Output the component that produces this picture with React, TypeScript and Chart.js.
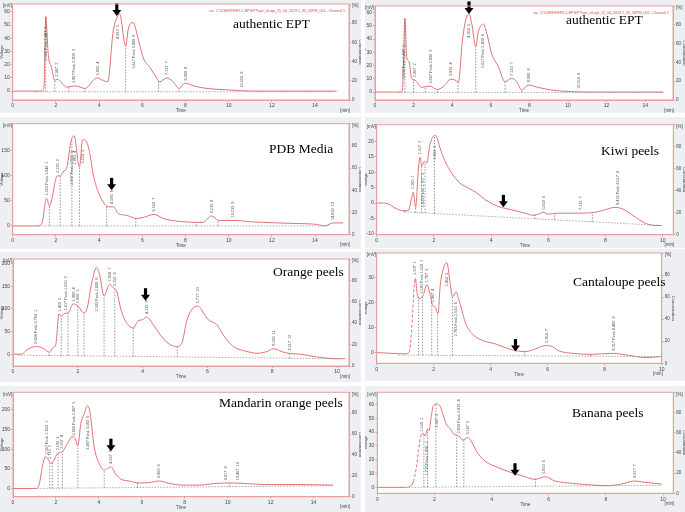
import React, { useEffect, useRef } from 'react';
import { Chart, registerables } from 'chart.js';
Chart.register(...registerables);

// ---------- data ----------
const eptLTime = [0, 1.34, 1.45, 1.53, 1.65, 1.8, 1.95, 2.06, 2.5, 2.88, 3.35, 3.9, 4.2, 4.4, 4.65, 4.9, 4.95, 5.23, 5.35, 5.58, 5.8, 6.05, 6.35, 6.66, 6.8, 7.12, 7.43, 7.7, 7.97, 8.36, 8.98, 9.9, 11.1, 15.0];
const eptLVolt = [0, 0, 3, 56.5, 27, 18, 8, 9, 3, 4, 2, 10, 8, 7, 45, 58, 58.5, 34, 47, 52, 40, 25, 18, 10, 7, 10, 7, 2, 6, 4, 2, 1, 0, 0];
const eptRTime = [0, 1.3, 1.42, 1.55, 1.64, 1.76, 1.9, 2.07, 2.42, 2.85, 3.2, 3.54, 3.94, 4.15, 4.32, 4.53, 4.7, 4.87, 5.01, 5.22, 5.35, 5.53, 5.61, 5.79, 6.04, 6.39, 6.74, 7.08, 7.34, 7.6, 7.94, 8.46, 9.15, 10.19, 11.57, 14.94];
const eptRVolt = [0, 0, 1.5, 55.7, 26.7, 23, 10.3, 9, 3.5, 4.5, 2, 4, 9.8, 9, 7.6, 39, 54.5, 59, 52, 34.3, 45.6, 50.7, 51.4, 44.4, 29.2, 19.2, 7.8, 10.3, 7.8, 1.5, 5.3, 3.5, 1.5, 0.3, 0, 0];
const pdbTime = [0, 1.19, 1.35, 1.57, 1.7, 2.07, 2.22, 2.37, 2.5, 2.68, 2.84, 3.09, 3.24, 3.42, 3.58, 3.73, 3.96, 4.19, 4.43, 4.66, 4.89, 5.28, 5.74, 6.05, 6.54, 6.97, 7.74, 8.8, 9.21, 9.52, 10.2, 11.1, 12.99, 14.07, 14.45, 14.84, 15.3];
const pdbVolt = [0, 0, 5, 55, 40, 100, 100, 110, 115, 165, 180, 118, 172, 168, 142, 102, 68, 48, 38, 38, 25, 21, 15, 17, 23, 15, 9, 7, 20, 11, 11, 8, 5, 3, 0, 6, 6];
const kiwiTime = [0, 0.23, 0.41, 0.64, 0.93, 1.1, 1.22, 1.28, 1.36, 1.46, 1.52, 1.57, 1.67, 1.75, 1.86, 1.98, 2.06, 2.21, 2.39, 2.62, 2.91, 3.2, 3.5, 3.79, 4.25, 4.72, 5.19, 5.48, 5.65, 5.83, 6.0, 6.35, 7.05, 7.63, 7.98, 8.33, 8.57, 8.92, 9.38, 9.73, 9.97];
const kiwiVolt = [0, 0, -0.3, -1.6, -2.5, -2.5, 1.6, 3.6, -1.4, 11.4, 14.9, 12, 13.6, 13, 19, 21.7, 22, 18, 13.6, 9.8, 6.5, 4.9, 3.3, 1.1, -1.1, -2.2, -3.3, -4, -3.6, -3, -3.6, -3.3, -3.3, -3, -2.2, -1.4, -1.8, -3.8, -6.5, -7.3, -7.3];
const orangeTime = [0, 0.26, 0.46, 0.72, 0.93, 1.13, 1.24, 1.32, 1.42, 1.49, 1.6, 1.7, 1.86, 2.01, 2.19, 2.29, 2.42, 2.58, 2.68, 2.81, 2.94, 2.99, 3.09, 3.2, 3.32, 3.45, 3.71, 3.87, 4.0, 4.12, 4.33, 4.54, 4.79, 5.05, 5.21, 5.36, 5.52, 5.72, 5.88, 6.03, 6.29, 6.55, 6.8, 7.22, 7.53, 7.84, 8.04, 8.35, 8.56, 8.87, 9.38, 10.0, 10.26];
const orangeVolt = [0, 0, 11, 17, 13, 4.4, 15, 21, 89, 84, 90, 91, 111, 106, 91, 102, 154, 191, 173, 128, 150, 154, 147, 139, 102, 76, 58, 74, 76, 82, 65, 43, 24, 17, 24, 73, 99, 106, 91, 76, 65, 36, 17, 6, 2, 6, 12, 4.4, 1.5, 0, -6, -10, -10];
const cantTime = [0, 0.53, 1.0, 1.14, 1.23, 1.31, 1.35, 1.43, 1.52, 1.64, 1.76, 1.88, 1.96, 2.05, 2.15, 2.23, 2.34, 2.46, 2.58, 2.66, 2.79, 2.87, 2.99, 3.1, 3.34, 3.69, 4.16, 4.63, 4.92, 5.22, 5.57, 5.92, 6.1, 6.39, 6.86, 7.56, 8.27, 8.62, 9.09, 9.44, 9.96];
const cantVolt = [0, -0.3, -0.5, 0.1, 9.7, 25.7, 30, 23, 21.7, 23.3, 27.3, 23, 19, 18.4, 15.7, 27, 33.7, 36.1, 27.7, 22.4, 24.4, 21.7, 17, 12.4, 7.7, 5, 3.5, 1.5, 0.7, 0.4, 1.5, 2.8, 2.7, 0.7, -0.3, -0.7, -0.3, -0.7, -1.6, -2, -1.6];
const mandTime = [0, 1.06, 1.21, 1.4, 1.52, 1.68, 1.8, 1.91, 2.07, 2.22, 2.33, 2.54, 2.77, 2.92, 3.02, 3.16, 3.31, 3.47, 3.58, 3.78, 4.01, 4.25, 4.4, 4.56, 4.79, 5.02, 5.41, 5.88, 6.35, 6.81, 7.28, 7.9, 8.68, 9.46, 10.23, 11.0, 11.79, 13.34, 14.9];
const mandVolt = [0, 0, 8.5, 64, 81, 70, 64, 72, 89, 92, 95, 115, 132, 123, 109, 166, 189, 211, 196, 106, 64, 47, 51, 55, 36, 24, 19, 14, 15, 19, 13, 8.5, 8.5, 13, 14, 12, 10, 10, 8.5];
const banTime = [0, 0.97, 1.14, 1.26, 1.38, 1.44, 1.53, 1.61, 1.67, 1.76, 1.81, 1.88, 1.96, 2.08, 2.19, 2.31, 2.43, 2.54, 2.66, 2.81, 2.89, 2.98, 3.07, 3.16, 3.3, 3.48, 3.77, 4.24, 4.7, 5.17, 5.52, 5.87, 6.22, 6.8, 7.5, 8.09, 8.55, 9.02, 9.37, 9.95];
const banVolt = [0, 0, 0.7, 4, 16, 25.8, 37.8, 39, 37.3, 42, 41, 50, 59, 60.2, 59, 52, 45, 42.7, 39, 37.3, 36.6, 34.2, 35, 36, 33, 25.8, 19, 14.2, 10.6, 7.7, 5.8, 7.7, 4.6, 2.9, 1.7, 1.2, 2.4, 4.6, 3.6, 2.4];

// peak retention times / labels
const eptLPeakT = [1.53, 2.07, 2.84, 3.96, 4.89, 5.61, 7.13, 8.02, 10.6];
const eptRPeakT = [1.52, 2.07, 2.9, 3.94, 4.87, 5.61, 7.12, 7.98, 10.59];
const eptPeakL = ['1.533 Peak 1.447  1', '2.067  2', '2.867 Peak 2.800  3', '3.933  4', '4.933  5', '5.617 Peak 5.400  6', '7.133  7', '8.000  8', '10.550  9'];
const pdbPeakT = [1.57, 2.11, 2.73, 2.88, 3.24, 4.58, 6.54, 9.24, 10.21, 14.84];
const pdbPeakL = ['1.553 Peak 1.640  1', '2.100  2', '2.667 Peak 2.833  3', '2.883  4', '3.233  5', '4.583  6', '6.550  7', '9.233  8', '10.233  9', '14.850  10'];
const kiwiPeakT = [1.28, 1.52, 1.63, 2.04, 5.86, 7.14, 8.43];
const kiwiPeakL = ['1.285  1', '1.517  2', '1.650 Peak 1.767  3', '2.050  5', '5.850  6', '7.133  7', '8.433 Peak 8.517  8'];
const orangePeakT = [0.7, 1.44, 1.63, 1.88, 2.01, 2.58, 2.99, 3.14, 4.12, 5.72, 8.04, 8.54];
const orangePeakL = ['0.699 Peak 0.760  1', '1.420  2', '1.617 Peak 1.633  3', '1.880  4', '2.000  5', '2.583 Peak 2.600  6', '2.950  7', '3.150  8', '4.133  9', '5.717  10', '8.033  11', '8.517  12'];
const cantPeakT = [1.35, 1.58, 1.77, 1.96, 2.46, 2.78, 5.98, 8.32];
const cantPeakL = ['1.337  1', '1.583 Peak 1.550  2', '1.767  3', '1.967  4', '2.450  5', '2.783 Peak 2.633  6', '5.950  7', '8.317 Peak 8.400  8'];
const mandPeakT = [1.56, 1.73, 2.1, 2.27, 2.85, 3.47, 4.56, 6.81, 9.92, 10.47];
const mandPeakL = ['1.567 Peak 1.650  1', '1.733  2', '2.100  3', '2.267  4', '2.850 Peak 2.967  5', '3.467 Peak 3.583  6', '4.567  7', '6.800  8', '9.917  9', '10.467  10'];
const banPeakT = [1.55, 1.73, 2.08, 2.86, 3.16, 5.85, 9.02];
const banPeakL = ['1.550  1', '1.733 Peak 1.800  2', '2.067  3', '2.850 Peak 2.933  4', '3.167  5', '5.850  6', '9.017  7'];

// integration boundary (drop line) times
const eptLDropT = [1.53, 1.95, 2.6, 3.35, 5.23, 6.75, 7.7];
const eptRDropT = [1.55, 2.0, 2.6, 3.25, 4.3, 5.22, 6.74, 7.6];
const pdbDropT = [1.7, 2.2, 2.74, 3.09, 4.35, 5.7, 8.5, 9.5, 14.3, 14.6];
const kiwiDropT = [0.97, 1.36, 1.57, 1.69, 2.02, 5.54, 6.22, 7.54];
const orangeDropT = [1.12, 1.49, 1.7, 2.0, 2.19, 2.81, 3.14, 3.71, 5.07, 8.54];
const cantDropT = [1.47, 1.61, 1.93, 2.14, 2.66, 5.19, 7.5, 9.96];
const mandDropT = [1.71, 1.83, 2.1, 2.3, 3.02, 4.25, 5.8, 10.08];
const banDropT = [1.63, 1.76, 2.05, 2.78, 3.03, 5.54];

// baselines [t0, v0, t1, v1]
const eptLBase = [1.0, -0.5, 14.9, -0.5];
const eptRBase = [1.2, -0.3, 14.94, -0.3];
const pdbBase = [1.2, 0, 14.45, 0];
const kiwiBase = [0.97, -2.9, 9.97, -7.3];
const orangeBase = [0.15, -2, 10.0, -10];
const cantBase = [0.76, -1, 9.96, -1.6];
const mandBase = [1.0, 0, 14.9, 7];
const banBase = [1.1, 0, 9.95, 1.5];

// arrow tips [time, value]
const eptLArrow = [4.82, 57];
const eptRArrow = [4.87, 59];
const pdbArrow = [4.58, 71];
const kiwiArrow = [4.43, -1.4];
const orangeArrow = [4.09, 118];
const cantArrow = [4.87, 0.4];
const mandArrow = [4.56, 95];
const banArrow = [4.82, 8.4];

const LEGEND_TEXT = 'C:\\USERS\\HPLC-EP\\EPT\\ept_ctl.opt_15_04_2023 1_33_56PM_002 - Channel 1';

// ---------- styles ----------
const CURVE = '#e27272';
const FRAME = '#e6a0a0';
const PANEL_BG = '#edeff2';
const SANS = 'Arial, "Liberation Sans", sans-serif';
const SERIF = '"Liberation Serif", "Times New Roman", serif';

interface PanelCfg {
  id: string;
  title: string;
  box: number[];
  frame: number[];
  xMax: number;
  yMin: number;
  yMax: number;
  yStep: number;
  time: number[];
  volt: number[];
  peakT: number[];
  peakL: string[];
  dropT: number[];
  base: number[];
  arrow: number[];
  dash?: number[];
  titlePos: number[];
  legend?: boolean;
}

const PANELS: PanelCfg[] = [
  { id: 'eptL', title: 'authentic EPT', box: [0, 0, 361, 113], frame: [12.7, 3.3, 349, 100], xMax: 15.57, yMin: -6.75, yMax: 66, yStep: 10, time: eptLTime, volt: eptLVolt, peakT: eptLPeakT, peakL: eptPeakL, dropT: eptLDropT, base: eptLBase, arrow: eptLArrow, titlePos: [233, 24], legend: true },
  { id: 'eptR', title: 'authentic EPT', box: [365, 0, 320, 113], frame: [10, 6, 308, 100], xMax: 15.44, yMin: -6, yMax: 65, yStep: 10, time: eptRTime, volt: eptRVolt, peakT: eptRPeakT, peakL: eptPeakL, dropT: eptRDropT, base: eptRBase, arrow: eptRArrow, titlePos: [566, 19.5], legend: true },
  { id: 'pdb', title: 'PDB Media', box: [0, 117, 361, 132], frame: [12.7, 6.7, 349, 117.7], xMax: 15.57, yMin: -17.5, yMax: 204, yStep: 50, time: pdbTime, volt: pdbVolt, peakT: pdbPeakT, peakL: pdbPeakL, dropT: pdbDropT, base: pdbBase, arrow: pdbArrow, titlePos: [269, 148.7] },
  { id: 'kiwi', title: 'Kiwi peels', box: [365, 117, 320, 131], frame: [11.7, 7.7, 308.3, 117.7], xMax: 10.37, yMin: -10.3, yMax: 25.5, yStep: 5, time: kiwiTime, volt: kiwiVolt, peakT: kiwiPeakT, peakL: kiwiPeakL, dropT: kiwiDropT, base: kiwiBase, arrow: kiwiArrow, titlePos: [601, 150.7] },
  { id: 'orange', title: 'Orange peels', box: [0, 252, 361, 130], frame: [13, 7, 349, 114], xMax: 10.37, yMin: -26, yMax: 210, yStep: 50, time: orangeTime, volt: orangeVolt, peakT: orangePeakT, peakL: orangePeakL, dropT: orangeDropT, base: orangeBase, arrow: orangeArrow, titlePos: [273, 272] },
  { id: 'cant', title: 'Cantaloupe peels', box: [365, 249, 320, 132], frame: [11.7, 3.3, 296.7, 114.3], xMax: 10.0, yMin: -4.3, yMax: 40, yStep: 10, time: cantTime, volt: cantVolt, peakT: cantPeakT, peakL: cantPeakL, dropT: cantDropT, base: cantBase, arrow: cantArrow, dash: [1.13, 1.36], titlePos: [573, 281.7] },
  { id: 'mand', title: 'Mandarin orange peels', box: [0, 386, 361, 126], frame: [13, 6.3, 349, 110.7], xMax: 15.65, yMin: -21, yMax: 245, yStep: 50, time: mandTime, volt: mandVolt, peakT: mandPeakT, peakL: mandPeakL, dropT: mandDropT, base: mandBase, arrow: mandArrow, titlePos: [219, 403] },
  { id: 'ban', title: 'Banana peels', box: [365, 386, 320, 126], frame: [12.3, 6.3, 308.3, 107.3], xMax: 10.36, yMin: -4.3, yMax: 68.7, yStep: 10, time: banTime, volt: banVolt, peakT: banPeakT, peakL: banPeakL, dropT: banDropT, base: banBase, arrow: banArrow, dash: [1.25, 1.54], titlePos: [572, 413] },
];

function valueAt(ts: number[], vs: number[], t: number): number {
  if (t <= ts[0]) return vs[0];
  for (let i = 1; i < ts.length; i++) {
    if (t <= ts[i]) {
      const f = (t - ts[i - 1]) / (ts[i] - ts[i - 1]);
      return vs[i - 1] + f * (vs[i] - vs[i - 1]);
    }
  }
  return vs[vs.length - 1];
}

function makeDecor(cfg: PanelCfg) {
  return {
    id: 'decor_' + cfg.id,
    beforeDraw(chart: any) {
      const { ctx, chartArea: a } = chart;
      ctx.save();
      ctx.fillStyle = '#ffffff';
      ctx.fillRect(a.left, a.top, a.right - a.left, a.bottom - a.top);
      ctx.restore();
    },
    afterDatasetsDraw(chart: any) {
      const { ctx, chartArea: a } = chart;
      const xs = chart.scales.x;
      const ys = chart.scales.y;
      const b = cfg.base;
      const baseAt = (t: number) => b[1] + ((t - b[0]) / (b[2] - b[0])) * (b[3] - b[1]);
      ctx.save();
      ctx.beginPath();
      ctx.rect(a.left, a.top, a.right - a.left, a.bottom - a.top);
      ctx.clip();
      // baseline
      ctx.strokeStyle = '#8a8a8a';
      ctx.lineWidth = 0.7;
      ctx.setLineDash([1.5, 1.5]);
      ctx.beginPath();
      ctx.moveTo(xs.getPixelForValue(b[0]), ys.getPixelForValue(b[1]));
      ctx.lineTo(xs.getPixelForValue(b[2]), ys.getPixelForValue(b[3]));
      ctx.stroke();
      // drop lines
      ctx.strokeStyle = '#666';
      cfg.dropT.forEach((t) => {
        const px = xs.getPixelForValue(t);
        ctx.beginPath();
        ctx.moveTo(px, ys.getPixelForValue(baseAt(t)));
        ctx.lineTo(px, ys.getPixelForValue(valueAt(cfg.time, cfg.volt, t)));
        ctx.stroke();
      });
      ctx.setLineDash([]);
      // peak labels
      ctx.fillStyle = '#555';
      ctx.font = `3.8px ${SANS}`;
      ctx.textBaseline = 'middle';
      ctx.textAlign = 'left';
      cfg.peakT.forEach((t, i) => {
        const text = cfg.peakL[i] || '';
        const px = xs.getPixelForValue(t);
        const apex = ys.getPixelForValue(valueAt(cfg.time, cfg.volt, t));
        const w = ctx.measureText(text).width;
        let start = apex - 3;
        if (start - w < a.top + 6) start = apex + 10 + w;
        ctx.save();
        ctx.translate(px, start);
        ctx.rotate(-Math.PI / 2);
        ctx.fillText(text, 0, 0);
        ctx.restore();
      });
      ctx.restore();
      // arrow
      const ax = xs.getPixelForValue(cfg.arrow[0]);
      const ay = ys.getPixelForValue(cfg.arrow[1]);
      ctx.save();
      ctx.fillStyle = '#000';
      ctx.fillRect(ax - 1.6, ay - 12.5, 3.2, 7.5);
      ctx.beginPath();
      ctx.moveTo(ax - 4.5, ay - 6);
      ctx.lineTo(ax + 4.5, ay - 6);
      ctx.lineTo(ax, ay);
      ctx.closePath();
      ctx.fill();
      ctx.restore();
    },
    afterDraw(chart: any) {
      const { ctx, chartArea: a } = chart;
      ctx.save();
      ctx.strokeStyle = FRAME;
      ctx.lineWidth = 1;
      ctx.strokeRect(a.left, a.top, a.right - a.left, a.bottom - a.top);
      ctx.fillStyle = '#444';
      ctx.font = `4.5px ${SANS}`;
      ctx.textBaseline = 'middle';
      ctx.textAlign = 'left';
      ctx.fillText('[mV]', a.left - 10, a.top + 2);
      ctx.fillText('[%]', a.right + 3, a.top + 2);
      ctx.textAlign = 'right';
      ctx.fillText('[min]', a.right + 1, a.bottom + 10.5);
      ctx.textAlign = 'center';
      ctx.fillText('Time', (a.left + a.right) / 2, a.bottom + 11);
      ctx.font = `4px ${SANS}`;
      ctx.save();
      ctx.translate(a.left - 11, (a.top + a.bottom) / 2);
      ctx.rotate(-Math.PI / 2);
      ctx.fillText('Voltage', 0, 0);
      ctx.restore();
      ctx.save();
      ctx.translate(a.right + 11, (a.top + a.bottom) / 2);
      ctx.rotate(Math.PI / 2);
      ctx.fillText('Concentration', 0, 0);
      ctx.restore();
      if (cfg.legend) {
        ctx.font = `3.6px ${SANS}`;
        ctx.fillStyle = '#d84848';
        ctx.textAlign = 'right';
        const tx = a.right - 4;
        const ty = a.top + 7;
        ctx.fillText(LEGEND_TEXT, tx, ty);
        const w = ctx.measureText(LEGEND_TEXT).width;
        ctx.strokeStyle = '#d84848';
        ctx.lineWidth = 0.7;
        ctx.beginPath();
        ctx.moveTo(tx - w - 7, ty);
        ctx.lineTo(tx - w - 2, ty);
        ctx.stroke();
      }
      ctx.restore();
    },
  };
}

function Panel({ cfg }: { cfg: PanelCfg }) {
  const ref = useRef<HTMLCanvasElement>(null);
  const [bx, by, bw, bh] = cfg.box;
  const [fl, ft, fr, fb] = cfg.frame;
  useEffect(() => {
    if (!ref.current) return;
    const tickFont = { size: 5, family: SANS };
    const gridOpt = { display: true, drawOnChartArea: false, drawTicks: true, tickLength: 2, color: FRAME };
    const chart = new Chart(ref.current, {
      type: 'line',
      data: {
        datasets: [
          {
            data: cfg.time.map((t, i) => ({ x: t, y: cfg.volt[i] })),
            borderColor: CURVE,
            borderWidth: 1,
            pointRadius: 0,
            fill: false,
            cubicInterpolationMode: 'monotone',
            segment: {
              borderDash: (c: any) =>
                cfg.dash && c.p0.parsed.x >= cfg.dash[0] && c.p1.parsed.x <= cfg.dash[1] ? [3, 2] : undefined,
            },
          } as any,
        ],
      },
      options: {
        responsive: false,
        maintainAspectRatio: false,
        animation: false,
        devicePixelRatio: 1,
        events: [],
        layout: { padding: { left: 0, right: 0, top: ft, bottom: 0 }, autoPadding: false },
        plugins: { legend: { display: false }, tooltip: { enabled: false } },
        scales: {
          x: {
            type: 'linear',
            min: 0,
            max: cfg.xMax,
            grid: gridOpt,
            border: { display: true, color: FRAME },
            ticks: { stepSize: 2, font: tickFont, color: '#444', padding: 1, maxRotation: 0, autoSkip: false, includeBounds: false },
            afterFit: (s: any) => { s.height = bh - fb; },
          },
          y: {
            type: 'linear',
            position: 'left',
            min: cfg.yMin,
            max: cfg.yMax,
            grid: gridOpt,
            border: { display: true, color: FRAME },
            ticks: {
              stepSize: cfg.yStep,
              font: tickFont,
              color: '#444',
              padding: 1,
              includeBounds: false,
              callback: (v: any) => (Number(v) > cfg.yMax - (cfg.yMax - cfg.yMin) * 0.03 ? '' : String(v)),
            },
            afterFit: (s: any) => { s.width = fl; },
          },
          y2: {
            type: 'linear',
            position: 'right',
            min: 0,
            max: 100,
            grid: gridOpt,
            border: { display: true, color: FRAME },
            ticks: { stepSize: 20, font: { size: 4.5, family: SANS }, color: '#444', padding: 1, includeBounds: false, callback: (v: any) => (Number(v) >= 100 ? '' : String(v)) },
            afterFit: (s: any) => { s.width = bw - fr; },
          },
        },
      } as any,
      plugins: [makeDecor(cfg)],
    });
    return () => chart.destroy();
  }, [cfg]);
  return (
    <div style={{ position: 'absolute', left: bx, top: by, width: bw, height: bh, background: PANEL_BG, overflow: 'hidden' }}>
      <canvas ref={ref} width={bw} height={bh} style={{ position: 'absolute', left: 0, top: 0, width: bw, height: bh }} />
    </div>
  );
}

export default function App() {
  return (
    <div style={{ position: 'fixed', left: 0, top: 0, width: 685, height: 512, background: '#ffffff', overflow: 'hidden' }}>
      {PANELS.map((p) => (
        <Panel key={p.id} cfg={p} />
      ))}
      {PANELS.map((p) => (
        <div
          key={p.id + '_t'}
          style={{
            position: 'absolute',
            left: p.titlePos[0],
            top: p.titlePos[1] - 8,
            fontFamily: SERIF,
            fontSize: 13.5,
            lineHeight: '16px',
            color: '#000',
            whiteSpace: 'nowrap',
          }}
        >
          {p.title}
        </div>
      ))}
    </div>
  );
}
